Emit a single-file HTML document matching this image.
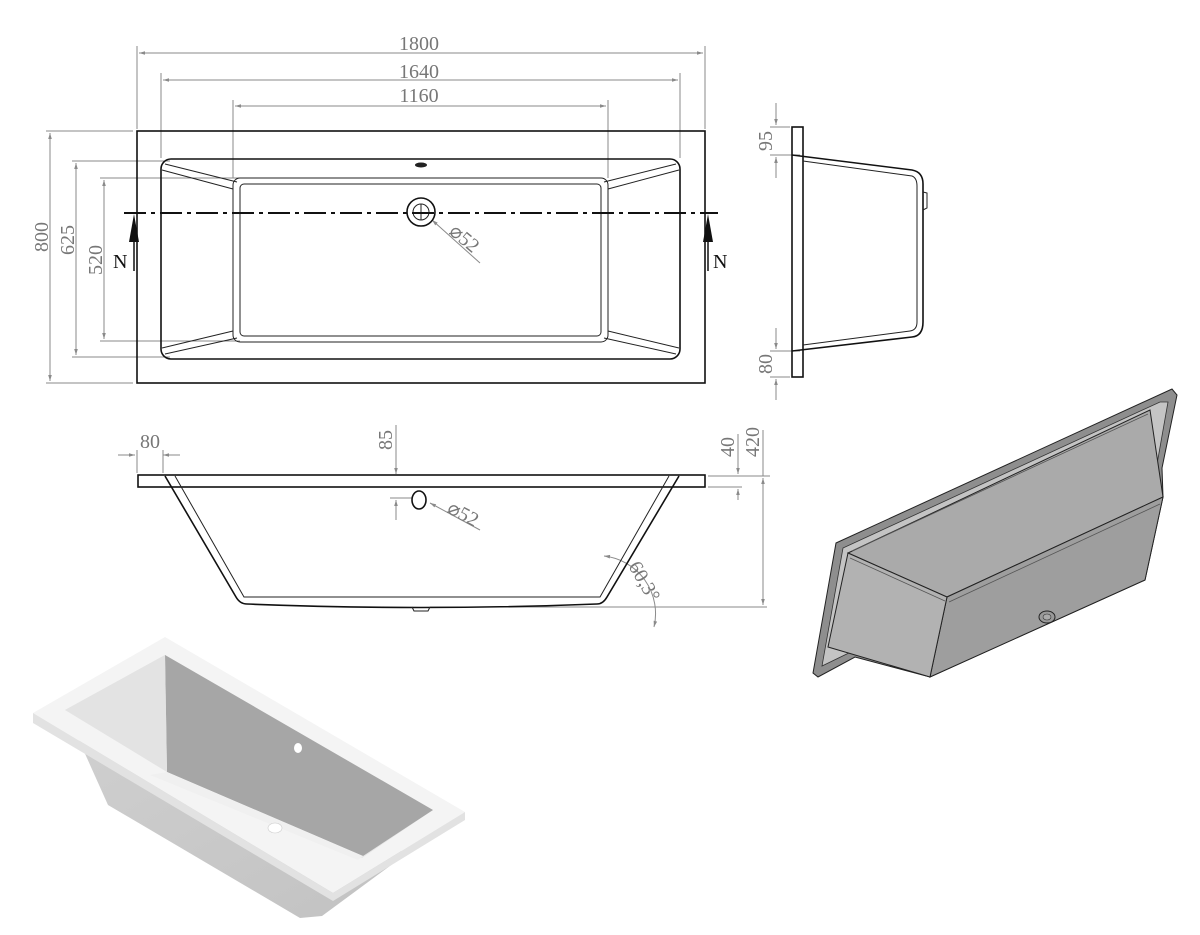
<!DOCTYPE html>
<html><head><meta charset="utf-8"><style>
html,body{margin:0;padding:0;background:#fff}
svg{display:block}
.d{stroke:#8a8a8a;stroke-width:1;fill:none}
.t{font-family:"Liberation Serif",serif;font-size:20px;fill:#777}
.k{stroke:#111;fill:none;stroke-width:1.6}
.k1{stroke:#222;fill:none;stroke-width:1}
</style></head><body>
<svg width="1200" height="935" viewBox="0 0 1200 935" xmlns="http://www.w3.org/2000/svg">
<defs>
<marker id="a" viewBox="0 0 10 10" refX="10" refY="5" markerWidth="10" markerHeight="6" orient="auto-start-reverse"><path d="M0,2 L10,5 L0,8z" fill="#8a8a8a"/></marker>
<linearGradient id="g1" x1="0" y1="0" x2="1" y2="1"><stop offset="0" stop-color="#cfcfcf"/><stop offset="1" stop-color="#c2c2c2"/></linearGradient>
</defs>
<!-- TOP VIEW -->
<g class="d">
<line x1="137" y1="129" x2="137" y2="46"/><line x1="705" y1="129" x2="705" y2="46"/>
<line x1="139" y1="53" x2="703" y2="53" marker-start="url(#a)" marker-end="url(#a)"/>
<line x1="161" y1="158" x2="161" y2="73"/><line x1="680" y1="158" x2="680" y2="73"/>
<line x1="163" y1="80" x2="678" y2="80" marker-start="url(#a)" marker-end="url(#a)"/>
<line x1="233" y1="178" x2="233" y2="100"/><line x1="608" y1="178" x2="608" y2="100"/>
<line x1="235" y1="106" x2="606" y2="106" marker-start="url(#a)" marker-end="url(#a)"/>
<line x1="133" y1="131" x2="46" y2="131"/><line x1="133" y1="383" x2="46" y2="383"/>
<line x1="50" y1="133" x2="50" y2="381" marker-start="url(#a)" marker-end="url(#a)"/>
<line x1="170" y1="161" x2="72" y2="161"/><line x1="170" y1="357" x2="72" y2="357"/>
<line x1="76" y1="163" x2="76" y2="355" marker-start="url(#a)" marker-end="url(#a)"/>
<line x1="240" y1="178" x2="100" y2="178"/><line x1="240" y1="341" x2="100" y2="341"/>
<line x1="104" y1="180" x2="104" y2="339" marker-start="url(#a)" marker-end="url(#a)"/>
<line x1="480" y1="263" x2="432" y2="220" marker-end="url(#a)"/>
</g>
<text class="t" x="419" y="50" text-anchor="middle">1800</text>
<text class="t" x="419" y="78" text-anchor="middle">1640</text>
<text class="t" x="419" y="102" text-anchor="middle">1160</text>
<text class="t" transform="translate(48,237) rotate(-90)" text-anchor="middle">800</text>
<text class="t" transform="translate(74,240) rotate(-90)" text-anchor="middle">625</text>
<text class="t" transform="translate(102,260) rotate(-90)" text-anchor="middle">520</text>
<text class="t" transform="translate(448,233) rotate(40)">⌀52</text>
<rect x="137" y="131" width="568" height="252" class="k" stroke-width="2"/>
<rect x="161" y="159" width="519" height="200" rx="10" class="k"/>
<rect x="233" y="178" width="375" height="164" rx="7" class="k1"/>
<rect x="240" y="184" width="361" height="152" rx="4" class="k1"/>
<g class="k1">
<line x1="165" y1="164" x2="237" y2="182"/><line x1="162" y1="170" x2="233" y2="189"/>
<line x1="676" y1="164" x2="604" y2="182"/><line x1="679" y1="170" x2="608" y2="189"/>
<line x1="165" y1="354" x2="237" y2="338"/><line x1="162" y1="348" x2="233" y2="331"/>
<line x1="676" y1="354" x2="604" y2="338"/><line x1="679" y1="348" x2="608" y2="331"/>
</g>
<ellipse cx="421" cy="165" rx="6" ry="2.5" fill="#222"/>
<circle cx="421" cy="212" r="14" class="k"/><circle cx="421" cy="212" r="8" class="k1"/>
<line x1="421" y1="204" x2="421" y2="220" class="k1"/>
<line x1="124" y1="213" x2="718" y2="213" stroke="#111" stroke-width="2" stroke-dasharray="22,5,4,5"/>
<line x1="134" y1="228" x2="134" y2="271" stroke="#111" stroke-width="1.5"/>
<path d="M129,242 L134,214 L139,242z" fill="#111"/>
<line x1="708" y1="228" x2="708" y2="271" stroke="#111" stroke-width="1.5"/>
<path d="M703,242 L708,214 L713,242z" fill="#111"/>
<text x="113" y="268" style="font-family:'Liberation Serif',serif;font-size:20px;fill:#111">N</text>
<text x="713" y="268" style="font-family:'Liberation Serif',serif;font-size:20px;fill:#111">N</text>

<!-- END VIEW -->
<g class="d">
<line x1="776" y1="103" x2="776" y2="125" marker-end="url(#a)"/>
<line x1="776" y1="178" x2="776" y2="157" marker-end="url(#a)"/>
<line x1="770" y1="127" x2="790" y2="127"/><line x1="770" y1="155" x2="800" y2="155"/>
<line x1="776" y1="328" x2="776" y2="349" marker-end="url(#a)"/>
<line x1="776" y1="400" x2="776" y2="379" marker-end="url(#a)"/>
<line x1="770" y1="351" x2="800" y2="351"/><line x1="770" y1="377" x2="790" y2="377"/>
</g>
<text class="t" transform="translate(772,141) rotate(-90)" text-anchor="middle">95</text>
<text class="t" transform="translate(772,364) rotate(-90)" text-anchor="middle">80</text>
<rect x="792" y="127" width="11" height="250" class="k"/>
<path d="M792,155 L912,170 Q923,172 923,184 L923,322 Q923,336 912,337 L792,351" class="k"/>
<path d="M803,161 L912,176 Q917,178 917,186 L917,322 Q917,330 910,331 L803,345" class="k1"/>
<path d="M923,192 L927,193 L927,208 L923,210" class="k1"/>

<!-- FRONT VIEW -->
<g class="d">
<line x1="118" y1="455" x2="135" y2="455" marker-end="url(#a)"/>
<line x1="180" y1="455" x2="163" y2="455" marker-end="url(#a)"/>
<line x1="137" y1="450" x2="137" y2="473"/><line x1="163" y1="450" x2="163" y2="473"/>
<line x1="396" y1="425" x2="396" y2="474" marker-end="url(#a)"/>
<line x1="396" y1="520" x2="396" y2="500" marker-end="url(#a)"/>
<line x1="390" y1="498" x2="412" y2="498"/>
<line x1="738" y1="434" x2="738" y2="474" marker-end="url(#a)"/>
<line x1="738" y1="500" x2="738" y2="489" marker-end="url(#a)"/>
<line x1="708" y1="476" x2="770" y2="476"/><line x1="708" y1="487" x2="742" y2="487"/>
<line x1="763" y1="430" x2="763" y2="476"/>
<line x1="763" y1="478" x2="763" y2="605" marker-start="url(#a)" marker-end="url(#a)"/>
<line x1="430" y1="607" x2="767" y2="607"/>
<line x1="480" y1="530" x2="430" y2="503" marker-end="url(#a)"/>
<path d="M604,556 A58,58 0 0 1 654,627" marker-start="url(#a)" marker-end="url(#a)"/>
</g>
<text class="t" x="150" y="448" text-anchor="middle">80</text>
<text class="t" transform="translate(392,440) rotate(-90)" text-anchor="middle">85</text>
<text class="t" transform="translate(734,447) rotate(-90)" text-anchor="middle">40</text>
<text class="t" transform="translate(759,442) rotate(-90)" text-anchor="middle">420</text>
<text class="t" transform="translate(446,512) rotate(28)">⌀52</text>
<text class="t" transform="translate(628,566) rotate(60)">60,3°</text>
<rect x="138" y="475" width="567" height="12" class="k"/>
<path d="M165,476 L236,597 Q240,604 247,604 Q420,611 597,604 Q603,604 607,597 L679,476" class="k"/>
<path d="M175,476 L244,597 L600,597 L669,476" class="k1"/>
<path d="M412,607 L414,611 L428,611 L430,607" class="k1"/>
<ellipse cx="419" cy="500" rx="7" ry="9" class="k"/>

<!-- 3D BOTTOM-RIGHT -->
<polygon points="836,543 1172,389 1177,395 1162,468 1163,497 1145,580 930,677 855,657 818,677 813,673" fill="#8e8e8e" stroke="#222" stroke-width="1"/>
<polygon points="843,548 1160,402 1168,402 1156,470 855,650 822,666" fill="#c4c4c4" stroke="#333" stroke-width="0.8"/>
<polygon points="848,553 1150,410 1163,497 947,597" fill="#aaaaaa" stroke="#222" stroke-width="1"/>
<polygon points="947,597 1163,497 1145,580 930,677" fill="#9e9e9e" stroke="#222" stroke-width="1"/>
<polygon points="848,553 947,597 930,677 828,647" fill="#b2b2b2" stroke="#222" stroke-width="1"/>
<line x1="852" y1="551" x2="1148" y2="414" stroke="#555" stroke-width="0.8"/>
<line x1="850" y1="558" x2="945" y2="601" stroke="#555" stroke-width="0.8"/>
<line x1="949" y1="602" x2="1160" y2="504" stroke="#555" stroke-width="0.8"/>
<ellipse cx="1047" cy="617" rx="8" ry="6" fill="#999" stroke="#222"/>
<ellipse cx="1047" cy="617" rx="4" ry="3" fill="#aaa" stroke="#333" stroke-width="0.6"/>

<!-- 3D BOTTOM-LEFT -->
<polygon points="78,738 108,805 300,918 322,916 398,860 410,828 90,735" fill="url(#g1)"/>
<polygon points="33,713 165,637 465,812 333,893" fill="#f4f4f4"/>
<polygon points="33,713 333,893 465,812 465,820 333,901 33,723" fill="#e2e2e2"/>
<polygon points="65,710 165,655 433,810 362,858" fill="#e6e6e6"/>
<polygon points="165,655 433,810 363,856 167,772" fill="#a6a6a6"/>
<polygon points="65,710 165,655 167,772" fill="#e3e3e3"/>
<polygon points="167,772 363,856 358,860 150,775" fill="#f0f0f0"/>
<ellipse cx="298" cy="748" rx="4" ry="5" fill="#fff"/>
<ellipse cx="275" cy="828" rx="7" ry="5" fill="#fff" stroke="#ccc" stroke-width="0.6"/>
</svg>
</body></html>
